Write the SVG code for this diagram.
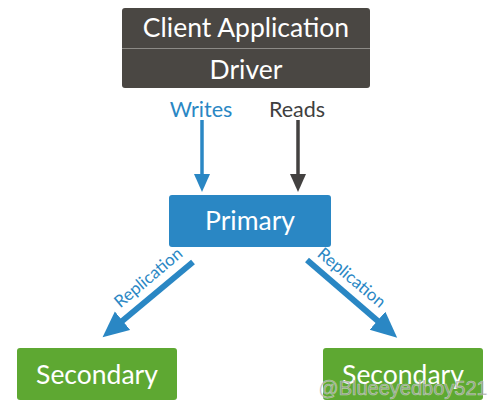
<svg xmlns="http://www.w3.org/2000/svg" width="500" height="409" viewBox="0 0 500 409">
<style>
.t{font-family:Lato,"Open Sans","DejaVu Sans",sans-serif;fill:#fff;text-anchor:middle}
.big{font-size:26.5px}
.lbl{font-size:21.5px}
.rep{font-family:Lato,"Open Sans",sans-serif;font-size:17px;fill:#2a87c4;text-anchor:middle}
</style>
<defs>
<marker id="hb" markerUnits="userSpaceOnUse" markerWidth="20" markerHeight="18" refX="2" refY="8" orient="auto"><path d="M0,0 L18,8 L0,16 z" fill="#2a87c4"/></marker>
<marker id="hg" markerUnits="userSpaceOnUse" markerWidth="20" markerHeight="18" refX="2" refY="8" orient="auto"><path d="M0,0 L18,8 L0,16 z" fill="#434140"/></marker>
<marker id="hr" markerUnits="userSpaceOnUse" markerWidth="28" markerHeight="26" refX="2" refY="12" orient="auto"><path d="M0,0 L26,12 L0,24 z" fill="#2a87c4"/></marker>
</defs>
<g id="client">
<rect x="122" y="8" width="248" height="80" rx="3" fill="#4a4743"/>
<line x1="122" y1="48.5" x2="370" y2="48.5" stroke="#8c8a86" stroke-width="1"/>
<text class="t big" x="246" y="37">Client Application</text>
<text class="t big" x="246" y="79">Driver</text>
</g>
<g id="connectors">
<line x1="202" y1="120" x2="202" y2="176" stroke="#2a87c4" stroke-width="3.5" marker-end="url(#hb)"/>
<line x1="298" y1="120" x2="298" y2="176" stroke="#434140" stroke-width="3.5" marker-end="url(#hg)"/>
<line x1="193" y1="262" x2="121" y2="322" stroke="#2a87c4" stroke-width="6" marker-end="url(#hr)"/>
<line x1="307" y1="260" x2="379" y2="322" stroke="#2a87c4" stroke-width="6" marker-end="url(#hr)"/>
<text class="t lbl" x="201" y="117" style="fill:#2a87c4">Writes</text>
<text class="t lbl" x="297" y="117" style="fill:#3f3f3f">Reads</text>
<text class="rep" transform="translate(152,282) rotate(-40)">Replication</text>
<text class="rep" transform="translate(348,282) rotate(40)">Replication</text>
</g>
<g id="primary">
<rect x="169" y="195" width="162" height="52" rx="3" fill="#2a87c4"/>
<text class="t big" x="250" y="230">Primary</text>
</g>
<g id="secondary1">
<rect x="17" y="348" width="160" height="52" rx="3" fill="#5ea832"/>
<text class="t big" x="97" y="384">Secondary</text>
</g>
<g id="secondary2">
<rect x="323" y="348" width="160" height="52" rx="3" fill="#5ea832"/>
<text class="t big" x="403" y="384">Secondary</text>
</g>
<text x="403" y="395" font-family="Liberation Sans, Arial, sans-serif" font-size="20" fill="#9a9a9a" fill-opacity="0.75" stroke="#ffffff" stroke-opacity="0.5" stroke-width="0.6" text-anchor="middle">@Blueeyedboy521</text>
</svg>
